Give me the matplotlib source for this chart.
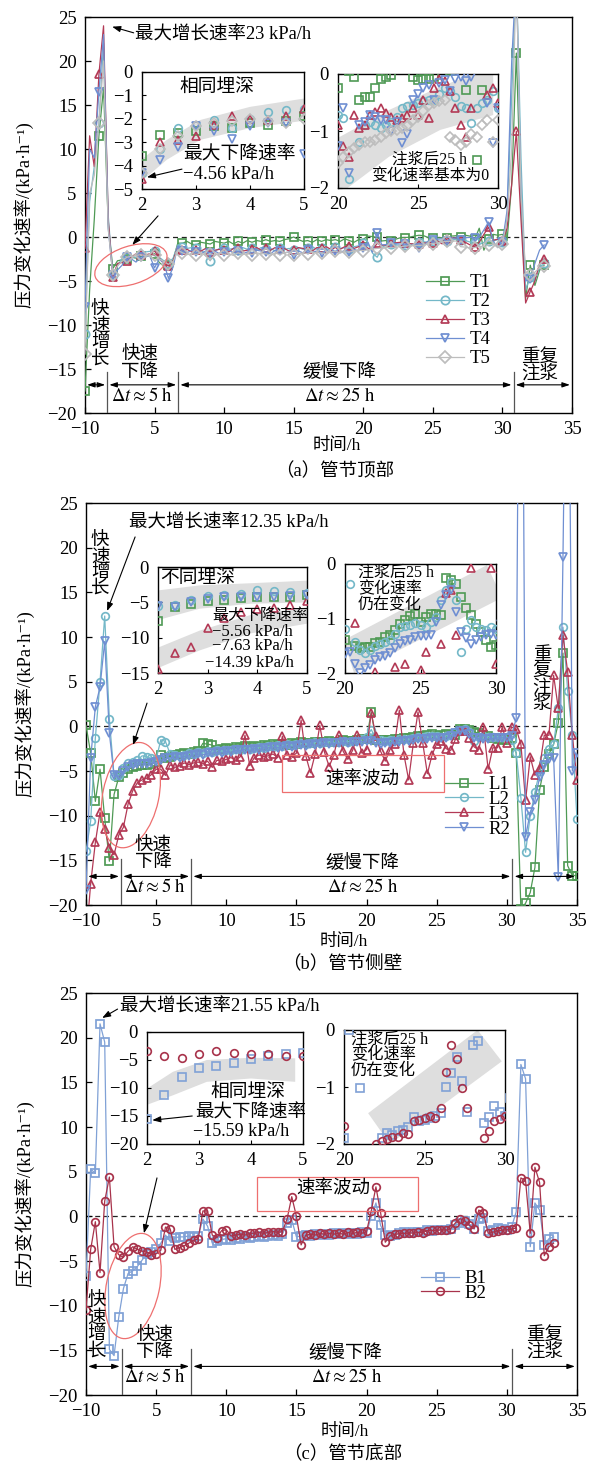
import numpy as np
import matplotlib
matplotlib.use("Agg")
import matplotlib.pyplot as plt
from matplotlib import transforms
from matplotlib.patches import Ellipse, Rectangle, Polygon

plt.rcParams["font.family"] = ["Liberation Serif", "Noto Sans CJK SC", "DejaVu Sans"]
plt.rcParams["mathtext.fontset"] = "stix"
plt.rcParams["axes.linewidth"] = 1.0

# ---------------- data (rate of pressure change, kPa/h, sampled every 20 min) ----------------
STEP_H = 1.0 / 3.0

# (a) crown of the tube segment
T1 = [-17.5, -6.0, 2.0, 11.5, 17.0, 1.5,
      -3.6, -2.7, -2.6, -2.5, -2.3, -2.4,
      -2.2, -2.27, -2.1, -1.9, -2.9, -3.3,
      -3.2, -2.6, -0.7, -0.7, -0.5, -0.8,
      -0.9, -0.6, -0.7, -0.8, -0.5, -0.6,
      -0.7, -0.5, -0.8, -0.5, -0.7, -0.4,
      -0.6, -0.4, -0.5, -0.3, -0.5, -0.4,
      -0.5, -0.3, -0.2, 0.0, -0.3, -0.5,
      -0.4, -0.6, -0.3, -0.5, -0.3, -0.4,
      -0.3, -0.5, -0.2, -0.4, -0.6, -0.3,
      -0.25, 0.1, 0.05, -0.05, -0.45, -0.4,
      -0.4, -0.25, -0.08, -0.06, -0.02, 0.1,
      0.2, 0.15, -0.06, -0.1, -0.08, -0.08,
      -0.06, 0.1, 0.15, 0.05, 0.2, 0.1,
      -0.28, 1.0, -1.5, -0.28, 0.3, 0.2,
      0.3, -0.4, 6.0, 20.9, 4.0, -7.0,
      -3.2, -5.5, -3.8,
      -3.2]
T2 = [-11.0, 4.0, 8.0, 13.0, 22.0, 2.5,
      -4.3, -3.3, -2.4, -2.27, -2.05, -2.4,
      -2.0, -1.7, -1.63, -1.6, -2.3, -2.7,
      -3.0, -2.4, -0.9, -1.1, -1.3, -1.2,
      -1.3, -1.5, -1.9, -2.7, -1.6, -1.3,
      -1.2, -1.4, -1.3, -1.5, -1.2, -1.4,
      -1.3, -1.5, -1.2, -1.4, -1.3, -1.6,
      -1.2, -1.4, -1.3, -1.5, -1.2, -1.4,
      -1.3, -1.1, -1.4, -1.2, -1.5, -1.3,
      -1.1, -1.3, -1.2, -1.4, -1.1, -1.0,
      -0.72, -0.78, -1.85, -2.3, -1.2, -0.9,
      -0.85, -0.9, -0.95, -0.9, -0.85, -0.75,
      -0.6, -0.57, -0.55, -0.5, -0.48, -0.45,
      -0.45, -0.35, -0.25, -0.3, -0.4, -0.57,
      -0.6, -0.86, -0.6, -0.51, -0.45, -0.3,
      -0.6, 2.0, 16.0, 30.0, 9.0, -6.0,
      -4.5, -5.0, -3.5,
      -3.0]
T3 = [-1.3, 11.5, 8.0, 18.5, 24.0, 2.0,
      -4.56, -3.0, -2.9, -2.75, -2.27, -1.9,
      -2.0, -2.05, -1.9, -1.56, -2.4, -3.0,
      -3.3, -2.7, -1.1, -1.5, -1.4, -1.7,
      -1.5, -1.6, -1.3, -1.7, -1.5, -1.4,
      -1.5, -1.7, -1.3, -1.2, -1.6, -1.5,
      -1.4, -1.2, -1.5, -1.3, -1.5, -1.2,
      -1.4, -1.3, -1.6, -1.5, -1.2, -1.3,
      -1.4, -1.6, -1.2, -1.3, -1.1, -1.4,
      -1.2, -1.4, -1.1, -1.0, -1.3, -1.1,
      -0.9, -1.27, -1.45, -0.72, -0.95, -0.9,
      -0.72, -0.66, -0.6, -0.68, -0.75, -0.8,
      -0.78, -0.72, -0.6, -0.72, -0.45, -0.78,
      -0.25, -0.08, -0.13, -0.3, -0.6, -0.9,
      -1.1, -0.6, 0.3, 1.1, -0.37, -0.25,
      -0.5, 1.0, 6.0, 12.0, 2.0, -7.5,
      -6.2, -5.0, -3.0,
      -2.5]
T4 = [-8.0, 10.0, 9.0, 16.5, 23.0, 1.0,
      -4.3, -3.75, -3.2, -2.3, -2.5, -2.85,
      -2.3, -2.2, -2.2, -3.5, -2.5, -3.0,
      -4.7, -3.4, -1.0, -1.6, -1.8, -1.5,
      -1.7, -1.9, -1.6, -1.8, -1.6, -1.9,
      -1.7, -1.5, -1.8, -1.6, -1.9, -1.7,
      -1.8, -1.5, -1.6, -1.7, -1.9, -1.5,
      -1.6, -1.8, -1.7, -2.1, -1.6, -1.8,
      -1.5, -1.7, -1.6, -1.8, -1.5, -1.7,
      -1.6, -1.8, -1.5, -1.7, -1.4, -1.6,
      -1.27, -0.6, -1.74, 0.5, -0.9, -0.85,
      -0.72, -0.75, -0.8, -0.8, -1.0, -0.85,
      -1.21, -1.05, -0.45, -0.35, -0.25, -0.2,
      -0.45, -0.15, -0.1, -0.3, -0.08, -0.05,
      -0.12, -0.05, 0.8, 1.7, -0.5, -1.21,
      -0.6, 3.0, 20.0, 30.0, 5.0, -5.0,
      -4.8, -3.0, -1.5,
      -0.9]
T5 = [-13.3, 5.0, 7.0, 13.0, 20.0, 1.0,
      -4.3, -3.3, -2.75, -2.3, -2.2, -2.1,
      -2.0, -2.1, -2.2, -2.0, -2.5, -2.8,
      -3.1, -2.8, -1.5, -1.8, -2.0, -1.9,
      -2.0, -1.8, -2.1, -1.9, -2.1, -1.8,
      -2.0, -1.9, -2.1, -1.8, -2.0, -1.9,
      -2.0, -1.8, -1.9, -1.9, -2.1, -1.8,
      -2.0, -1.8, -1.7, -2.1, -1.9, -1.8,
      -1.9, -1.7, -1.8, -1.8, -1.9, -1.7,
      -1.6, -1.8, -1.7, -1.7, -1.6, -1.5,
      -1.56, -1.45, -1.36, -1.3, -1.25, -1.2,
      -1.2, -1.15, -1.1, -1.04, -1.0, -0.98,
      -0.95, -0.92, -0.8, -0.75, -0.65, -0.55,
      -0.5, -0.48, -0.45, -1.1, -1.15, -1.25,
      -1.2, -1.05, -1.1, -0.9, -0.8, -1.2,
      -0.8, 2.0, 10.0, 30.0, 5.0, -4.0,
      -4.3, -4.0, -3.5,
      -3.3]

# (b) side wall of the tube segment
L1 = [0.1, -3.0, -8.4, -4.8, -10.3, -15.1,
      -7.63, -5.7, -5.2, -4.8, -4.6, -4.4,
      -4.3, -4.3, -4.2, -4.0, -3.2, -3.5,
      -3.4, -3.2, -3.1, -3.0, -3.1, -2.9,
      -2.8, -1.9, -2.0, -2.1, -2.6, -2.5,
      -2.4, -2.5, -2.3, -2.4, -2.2, -2.3,
      -2.2, -2.3, -2.1, -2.2, -2.0, -2.1,
      -2.0, -2.1, -1.9, -2.0, -1.8, -1.9,
      -1.9, -1.7, -1.8, -1.8, -1.6, -1.7,
      -1.7, -1.5, -1.6, -1.6, -1.5, -1.37,
      -1.4, 1.6, -1.5, -1.55, -1.52, -1.52,
      -1.45, -1.43, -1.34, -1.3, -1.21, -1.1,
      -1.03, -0.95, -0.91, -1.06, -0.98, -0.91,
      -0.92, -0.94, -0.26, -0.29, -0.36, -0.6,
      -0.8, -0.94, -1.1, -1.25, -1.4, -1.52,
      -1.49, -1.3, -3.0, -20.5, -19.8, -18.6,
      -15.8, -7.1, -4.5, -3.1, -2.0, 0.4,
      8.2, -15.6, -16.7,
      -16.7]
L2 = [-14.0, -10.6, -1.3, 5.0, 12.35, 0.8,
      -5.56, -5.4, -4.7, -4.15, -4.0, -3.8,
      -3.3, -3.4, -3.6, -3.7, -1.5, -1.7,
      -3.1, -3.2, -3.3, -3.2, -3.0, -3.1,
      -2.9, -3.0, -2.8, -2.9, -2.7, -2.8,
      -2.6, -2.7, -2.5, -2.6, -2.4, -2.5,
      -2.4, -2.3, -2.4, -2.2, -2.3, -2.1,
      -2.2, -2.0, -2.1, -2.0, -1.9, -2.0,
      -1.9, -1.8, -1.9, -1.8, -1.7, -1.8,
      -1.7, -1.6, -1.7, -1.6, -1.5, -1.4,
      -1.2, -0.36, -1.43, -1.58, -1.64, -1.58,
      -1.5, -1.46, -1.43, -1.4, -1.28, -1.15,
      -1.14, -1.12, -1.09, -1.12, -1.15, -1.06,
      -0.97, -0.66, -0.48, -0.33, -0.66, -1.61,
      -1.2, -1.03, -1.15, -1.2, -1.21, -1.15,
      -1.2, -1.5, -3.0, -8.0, -14.1, -10.0,
      -7.4, -5.0, -3.5, -2.5, -2.0, 2.0,
      11.1, 4.0, -1.0,
      -10.4]
L3 = [-24.0, -17.6, -13.0, -9.6, -11.5, -13.6,
      -14.39, -12.2, -11.3, -8.7, -7.2, -6.3,
      -6.0, -5.8, -5.4, -4.8, -4.8, -5.5,
      -4.3, -4.6, -4.4, -4.1, -4.3, -4.1,
      -4.0, -4.2, -3.9, -4.6, -3.8, -3.9,
      -3.7, -3.5, -3.8, -3.4, -1.0, -4.4,
      -3.5, -3.2, -3.4, -3.3, -3.1, -3.5,
      -1.1, -3.2, -3.4, -3.0, 0.7, -3.3,
      -5.2, -3.1, 0.1, -2.9, -4.5, -3.2,
      -1.0, -2.8, -3.7, -2.7, -1.0, -3.0,
      -2.6, 1.5, -1.09, -2.8, -3.9, -2.6,
      -1.98, 1.8, -3.2, -6.0, -1.89, 1.6,
      -1.83, -5.3, -3.2, -1.95, -1.61, -2.5,
      -2.7, -1.46, -0.54, -0.48, -1.31, -2.3,
      -2.6, -0.08, -4.8, -2.4, -2.4, -0.08,
      -1.83, -0.1, -0.3, -2.0, -8.3, -3.4,
      -5.5, -4.7, -1.0, -1.0, 5.7, 2.0,
      10.2, 6.1, -1.0,
      -6.0]
R2 = [-18.3, -3.6, 2.2, 4.4, 9.5, -0.8,
      -5.5, -5.6, -5.0, -4.5, -4.3, -4.2,
      -4.2, -4.2, -4.1, -4.0, -3.8, -3.6,
      -3.5, -3.4, -3.5, -3.4, -3.3, -3.2,
      -3.1, -3.2, -3.0, -3.0, -2.9, -3.0,
      -2.8, -2.9, -2.7, -2.7, -2.6, -2.7,
      -2.5, -2.6, -2.4, -2.4, -2.3, -2.4,
      -2.3, -2.2, -2.3, -2.2, -2.1, -2.2,
      -2.0, -2.1, -2.0, -1.9, -2.0, -1.9,
      -1.9, -1.8, -1.9, -1.8, -1.7, -1.7,
      -1.65, -1.61, -1.83, -2.0, -1.9, -1.85,
      -1.77, -1.7, -1.68, -1.64, -1.55, -1.46,
      -1.42, -1.4, -1.34, -1.33, -1.32, -1.31,
      -1.06, -0.75, -0.57, -0.48, -0.88, -1.25,
      -1.35, -1.46, -1.4, -1.34, -1.3, -1.28,
      -1.3, -1.1, 0.9, 80.0, -12.4, -9.6,
      -8.3, -5.7, -4.3, -3.7, -3.5, -16.9,
      19.0, 60.0, -5.0,
      -3.0]

# (c) invert of the tube segment
B1 = [-6.7, 5.3, 4.8, 21.55, 19.5, -14.9,
      -15.59, -11.3, -8.1, -6.4, -6.1, -5.6,
      -4.9, -4.2, -4.0, -3.7, -3.0, -2.1,
      -2.8, -2.4, -2.3, -2.3, -2.2, -2.3,
      -2.2, -0.3, -1.1, -3.0, -2.8, -2.6,
      -2.5, -2.6, -2.4, -2.5, -2.3, -2.4,
      -2.3, -2.2, -2.3, -2.2, -2.1, -2.2,
      -2.0, -0.8, -0.4, -2.3, -2.2, -2.1,
      -2.2, -2.0, -2.1, -2.0, -2.1, -1.9,
      -2.0, -1.9, -2.0, -1.9, -2.0, -1.8,
      -1.9, 0.0, 1.5, -1.02, -2.1, -2.2,
      -2.1, -1.9, -1.8, -1.85, -1.78, -1.75,
      -1.7, -1.52, -1.6, -1.58, -1.55, -1.5,
      -1.45, -1.0, -0.75, -0.47, -0.9, -1.43,
      -0.26, -0.2, -1.63, -1.52, -1.34, -1.43,
      -1.5, -1.2, 0.5, 17.0, 15.4, -3.4,
      1.5, 0.7, -3.2,
      -2.5, -2.3]
B2 = [-10.5, -3.7, -0.6, -6.3, 1.7, 4.4,
      -3.4, -4.3, -4.6, -3.9, -3.4, -3.7,
      -3.9, -4.0, -4.3, -4.2, -3.8, -1.2,
      -1.4, -3.7, -3.5, -3.3, -3.0, -2.7,
      -2.5, 0.6, 0.6, -2.1, -2.4, -1.6,
      -1.5, -2.2, -2.1, -2.0, -2.1, -1.9,
      -1.9, -1.8, -1.9, -1.8, -1.7, -1.8,
      -1.7, -0.3, 2.2, 0.0, -3.2, -2.1,
      -2.0, -2.1, -1.9, -2.0, -1.9, -2.0,
      -1.9, -2.0, -1.8, -1.9, -1.8, -1.9,
      -1.69, 0.6, 3.3, 0.4, -2.9, -2.2,
      -2.0, -1.95, -1.91, -1.88, -1.87, -1.8,
      -1.82, -1.6, -1.58, -1.55, -1.5, -1.55,
      -1.37, -0.73, -0.26, -0.5, -1.02, -1.37,
      0.7, 0.4, -1.9, -1.78, -1.6, -1.57,
      -1.5, -1.45, -1.3, 4.3, 4.0, -1.9,
      5.5, 3.8, -4.4,
      -3.4, -3.0]

t_a = np.arange(len(T1)) * STEP_H
t_b = np.arange(len(L1)) * STEP_H
t_c = np.arange(len(B1)) * STEP_H

XTICKS = [0, 5, 10, 15, 20, 25, 30, 35]
XTICKLABELS = ["\u221210", "5", "10", "15", "20", "25", "30", "35"]
YTICKS = [-20, -15, -10, -5, 0, 5, 10, 15, 20, 25]

# phase boundaries (h) for each panel
PHASE_A = [0, 1.6, 6.7, 30.8, 35]
PHASE_B = [0, 2.5, 7.5, 30.4, 35]
PHASE_C = [0, 2.55, 7.5, 30.4, 35]

GREEN = "#4f9a55"
CYAN = "#74b8c8"
RED = "#b33a56"
BLUE = "#6f8fd2"
GREY = "#bdbdbd"
B1C = "#80a1d6"
B2C = "#a8334b"
BAND = "#dedede"
PINK = "#ee6f6f"

CJK = 13.3      # main CJK annotations
SMALL = 11.5    # small CJK / numeric notes in insets
NUM = 13.5      # tick labels and numeric notes

W, H = 597, 1466
fig = plt.figure(figsize=(W / 100, H / 100), dpi=100)


def rect(x0, y0, x1, y1):
    return [x0 / W, 1 - y1 / H, (x1 - x0) / W, (y1 - y0) / H]


def fig_pt(x, y):
    return (x / W, 1 - y / H)


def style_main(ax):
    ax.set_xlim(0, 35)
    ax.set_ylim(-20, 25)
    ax.set_xticks(XTICKS)
    ax.set_xticklabels(XTICKLABELS)
    ax.set_yticks(YTICKS)
    ax.tick_params(direction="in", length=4, width=0.9, labelsize=NUM,
                   top=False, right=False)
    ax.tick_params(axis="x", pad=6)
    ax.tick_params(axis="y", pad=6)
    ax.axhline(0, color="#222222", ls=(0, (4, 3)), lw=0.9, zorder=1)
    ax.set_ylabel("压力变化速率/(kPa·h\u207b\u00b9)", fontsize=CJK)
    ax.yaxis.set_label_coords(-0.105, 0.5)


def style_inset(ax, xlim, ylim, xticks, yticks):
    ax.set_xlim(*xlim)
    ax.set_ylim(*ylim)
    ax.set_xticks(xticks)
    ax.set_yticks(yticks)
    ax.tick_params(direction="in", length=3, width=0.8, labelsize=NUM,
                   top=False, right=False)
    ax.tick_params(axis="x", pad=5.5)
    ax.tick_params(axis="y", pad=6.5)
    for s in ax.spines.values():
        s.set_linewidth(1.0)


def ring(ax, cx, cy, w_px, h_px, angle):
    tr = fig.dpi_scale_trans + transforms.ScaledTranslation(cx, cy, ax.transData)
    ax.add_patch(Ellipse((0, 0), w_px / 100, h_px / 100, angle=angle, transform=tr,
                         fill=False, ec=PINK, lw=0.9, zorder=6, clip_on=False))


def pointer(ax, start, end):
    ax.annotate("", xy=end, xytext=start,
                arrowprops=dict(arrowstyle="-|>,head_length=0.5,head_width=0.18",
                                color="k", lw=0.8, shrinkA=0, shrinkB=0), zorder=7)


def phases(ax, bounds, y_arrow, y_top):
    for b in bounds[1:-1]:
        ax.plot([b, b], [-20, y_top], color="#555555", lw=0.9, zorder=4)
    for a, b in zip(bounds[:-1], bounds[1:]):
        ax.annotate("", xy=(b, y_arrow), xytext=(a, y_arrow),
                    arrowprops=dict(arrowstyle="<|-|>,head_length=0.45,head_width=0.15",
                                    color="k", lw=0.8, shrinkA=1.5, shrinkB=1.5))


def labels(ax, items):
    for x, y, s, kw in items:
        opts = dict(fontsize=CJK, ha="center", va="center", zorder=8)
        opts.update(kw)
        ax.text(x, y, s, **opts)


def draw_main(ax, t, series, every, ms):
    hs = []
    for y, c, m, lab in series:
        h, = ax.plot(t, y, color=c, lw=0.9, marker=m, ms=ms, mfc="none", mec=c, mew=1.25,
                     markevery=every, label=lab, zorder=3)
        hs.append(h)
    return hs


def legend_at(ax, handles, x_px, y_px, spacing):
    ax.legend(handles=handles, loc="upper left", bbox_to_anchor=fig_pt(x_px, y_px),
              bbox_transform=fig.transFigure, frameon=False, fontsize=NUM,
              handlelength=2.0, handletextpad=0.3, labelspacing=spacing, borderpad=0,
              borderaxespad=0)


def draw_inset(ax, t, series, ms=5.5):
    for y, c, m, _ in series:
        ax.plot(t, y, ls="none", marker=m, ms=ms if m != "D" else ms - 0.7, mfc="none",
                mec=c, mew=1.2, zorder=3)


def band(ax, pts):
    ax.add_patch(Polygon(pts, closed=True, fc=BAND, ec="none", zorder=1))


DT5 = r"$\Delta t\approx 5\ \mathrm{h}$"
DT25 = r"$\Delta t\approx 25\ \mathrm{h}$"

# ================= (a) =================
series_a = [(T1, GREEN, "s", "T1"), (T2, CYAN, "o", "T2"), (T3, RED, "^", "T3"),
            (T4, BLUE, "v", "T4"), (T5, GREY, "D", "T5")]
ax_a = fig.add_axes(rect(85, 17, 572, 413))
style_main(ax_a)
h_a = draw_main(ax_a, t_a, series_a, 3, 6)
legend_at(ax_a, h_a, 426, 274, 0.1)
phases(ax_a, PHASE_A, -16.8, -15.3)
labels(ax_a, [
    (1.08, -11.1, "快\n速\n增\n长", dict(linespacing=0.95)),
    (3.95, -14.4, "快速\n下降", dict(linespacing=0.95)),
    (4.1, -18.1, DT5, dict(fontsize=NUM)),
    (18.3, -15.3, "缓慢下降", {}),
    (18.3, -18.1, DT25, dict(fontsize=NUM)),
    (32.7, -14.6, "重复\n注浆", dict(linespacing=0.95)),
    (3.6, 23.0, "最大增长速率23 kPa/h", dict(ha="left", fontsize=13.3)),
])
pointer(ax_a, (3.5, 23.2), (1.95, 23.9))
ring(ax_a, 3.3, -3.2, 75, 38, 18)
pointer(ax_a, (5.25, 2.4), (3.4, -0.9))

ia1 = fig.add_axes(rect(142, 72, 304, 189))
band(ia1, [(1.9, -3.9), (2.46, -2.9), (3.08, -2.05), (4.0, -1.49), (5.1, -1.1),
           (5.1, -2.05), (4.0, -2.4), (3.08, -2.9), (2.46, -3.75), (1.9, -4.85)])
draw_inset(ia1, t_a, series_a)
style_inset(ia1, (2, 5), (-5, 0), [2, 3, 4, 5], [0, -1, -2, -3, -4, -5])
labels(ia1, [
    (3.39, -0.64, "相同埋深", dict(fontsize=13.5)),
    (2.76, -3.55, "最大下降速率", dict(ha="left", fontsize=13.5, clip_on=False)),
    (2.76, -4.36, "\u22124.56 kPa/h", dict(ha="left", fontsize=NUM)),
])
pointer(ia1, (2.74, -4.15), (2.09, -4.5))

ia2 = fig.add_axes(rect(338, 74, 498, 188))
band(ia2, [(20.0, -1.12), (23.2, -0.63), (26.4, -0.22), (28.5, 0.0), (29.7, 0.0),
           (29.7, -0.72), (26.4, -0.98), (23.2, -1.45), (20.6, -2.0), (20.0, -2.0)])
draw_inset(ia2, t_a, series_a)
style_inset(ia2, (20, 30), (-2, 0), [20, 25, 30], [0, -1, -2])
labels(ia2, [
    (25.7, -1.51, "注浆后25 h", dict(fontsize=11.3)),
    (25.75, -1.79, "变化速率基本为0", dict(fontsize=11.3)),
])

# ================= (b) =================
series_b = [(L1, GREEN, "s", "L1"), (L2, CYAN, "o", "L2"), (L3, RED, "^", "L3"),
            (R2, BLUE, "v", "R2")]
ax_b = fig.add_axes(rect(86, 503, 577, 905))
style_main(ax_b)
h_b = draw_main(ax_b, t_b, series_b, 1, 5.5)
legend_at(ax_b, h_b, 445, 776, -0.12)
phases(ax_b, PHASE_B, -16.8, -14.9)
ax_b.add_patch(Rectangle((14.0, -7.4), 11.5, 4.2, fill=False, ec=PINK, lw=0.9, zorder=6))
labels(ax_b, [
    (1.0, 18.1, "快\n速\n增\n长", dict(linespacing=0.9)),
    (4.8, -14.3, "快速\n下降", dict(linespacing=0.95)),
    (4.9, -18.0, DT5, dict(fontsize=NUM)),
    (19.7, -15.3, "缓慢下降", {}),
    (19.7, -18.0, DT25, dict(fontsize=NUM)),
    (32.5, 5.2, "重\n复\n注\n浆", dict(linespacing=0.95)),
    (19.7, -6.0, "速率波动", {}),
    (3.1, 22.8, "最大增长速率12.35 kPa/h", dict(ha="left", fontsize=13.3)),
])
pointer(ax_b, (3.5, 21.2), (1.5, 12.9))
ring(ax_b, 3.2, -7.7, 56, 107, -12)
pointer(ax_b, (4.35, 2.6), (3.35, -2.1))

ib1 = fig.add_axes(rect(158, 567, 307, 673))
band(ib1, [(1.9, -3.4), (2.84, -2.6), (3.86, -2.3), (5.1, -1.9),
           (5.1, -5.0), (3.86, -5.2), (2.84, -5.9), (1.9, -7.7)])
band(ib1, [(1.9, -11.7), (2.84, -9.0), (3.86, -6.8), (5.1, -5.6),
           (5.1, -7.9), (3.86, -9.4), (2.84, -11.8), (1.9, -14.6)])
draw_inset(ib1, t_b, series_b)
style_inset(ib1, (2, 5), (-15, 0), [2, 3, 4, 5], [0, -5, -10, -15])
labels(ib1, [
    (2.04, -1.56, "不同埋深", dict(ha="left", fontsize=13.5)),
    (3.09, -6.9, "最大下降速率", dict(ha="left", fontsize=SMALL, clip_on=False)),
    (3.09, -9.2, "\u22125.56 kPa/h", dict(ha="left", fontsize=SMALL + 0.5)),
    (3.09, -11.2, "\u22127.63 kPa/h", dict(ha="left", fontsize=SMALL + 0.5)),
    (2.95, -13.6, "\u221214.39 kPa/h", dict(ha="left", fontsize=SMALL + 0.5)),
])

ib2 = fig.add_axes(rect(345, 564, 496, 673))
band(ib2, [(19.9, -1.40), (29.4, -0.02), (30.4, -0.62), (20.6, -2.0)])
draw_inset(ib2, t_b, series_b)
style_inset(ib2, (20, 30), (-2, 0), [20, 25, 30], [0, -1, -2])
labels(ib2, [
    (20.86, -0.165, "注浆后25 h", dict(ha="left", fontsize=SMALL)),
    (20.86, -0.459, "变化速率", dict(ha="left", fontsize=SMALL)),
    (20.86, -0.752, "仍在变化", dict(ha="left", fontsize=SMALL)),
])

# ================= (c) =================
series_c = [(B1, B1C, "s", "B1"), (B2, B2C, "o", "B2")]
ax_c = fig.add_axes(rect(86, 993, 577, 1395))
style_main(ax_c)
h_c = draw_main(ax_c, t_c, series_c, 1, 5.5)
legend_at(ax_c, h_c, 421, 1270, -0.12)
phases(ax_c, PHASE_C, -16.8, -14.9)
ax_c.add_patch(Rectangle((12.2, 0.6), 11.5, 3.8, fill=False, ec=PINK, lw=0.9, zorder=6))
labels(ax_c, [
    (0.78, -12.3, "快\n速\n增\n长", dict(linespacing=0.95)),
    (4.9, -14.3, "快速\n下降", dict(linespacing=0.95)),
    (4.9, -18.0, DT5, dict(fontsize=NUM)),
    (18.5, -15.3, "缓慢下降", {}),
    (18.6, -18.0, DT25, dict(fontsize=NUM)),
    (32.7, -14.3, "重复\n注浆", dict(linespacing=0.95)),
    (17.6, 3.05, "速率波动", {}),
    (2.4, 23.4, "最大增长速率21.55 kPa/h", dict(ha="left", fontsize=13.3)),
])
pointer(ax_c, (2.25, 23.2), (1.15, 22.2))
ring(ax_c, 3.35, -7.8, 53, 107, -12)
pointer(ax_c, (5.06, 4.3), (4.13, -1.9))

ic1 = fig.add_axes(rect(147, 1032, 303, 1144))
band(ic1, [(2.0, -10.1), (2.5, -7.1), (3.15, -5.0), (4.0, -4.6), (4.85, -4.7),
           (4.85, -8.9), (4.0, -8.3), (3.15, -8.9), (2.5, -11.3), (2.0, -13.0)])
draw_inset(ic1, t_c, series_c)
style_inset(ic1, (2, 5), (-20, 0), [2, 3, 4, 5], [0, -5, -10, -15, -20])
labels(ic1, [
    (3.94, -10.7, "相同埋深", dict(fontsize=13.5)),
    (2.92, -14.5, "最大下降速率", dict(ha="left", fontsize=13.3, clip_on=False)),
    (2.88, -17.7, "\u221215.59 kPa/h", dict(ha="left", fontsize=13)),
])
pointer(ic1, (2.87, -15.0), (2.1, -15.75))

ic2 = fig.add_axes(rect(344, 1030, 505, 1144))
band(ic2, [(21.5, -1.46), (28.3, 0.0), (29.8, -0.55), (22.85, -2.0)])
draw_inset(ic2, t_c, series_c)
style_inset(ic2, (20, 30), (-2, 0), [20, 25, 30], [0, -1, -2])
labels(ic2, [
    (20.43, -0.175, "注浆后25 h", dict(ha="left", fontsize=SMALL + 0.2)),
    (20.43, -0.439, "变化速率", dict(ha="left", fontsize=SMALL + 0.2)),
    (20.43, -0.719, "仍在变化", dict(ha="left", fontsize=SMALL + 0.2)),
])

# axis titles and captions
for x, y, s, fs in [(337, 446, "时间/h", 12.5), (335, 471, "（a）管节顶部", CJK),
                    (344, 942, "时间/h", 12.5), (342, 964, "（b）管节侧壁", CJK),
                    (345, 1432, "时间/h", 12.5), (343, 1454, "（c）管节底部", CJK)]:
    fig.text(x / W, 1 - y / H, s, fontsize=fs, ha="center", va="center")

fig.savefig("out.png", dpi=100)
